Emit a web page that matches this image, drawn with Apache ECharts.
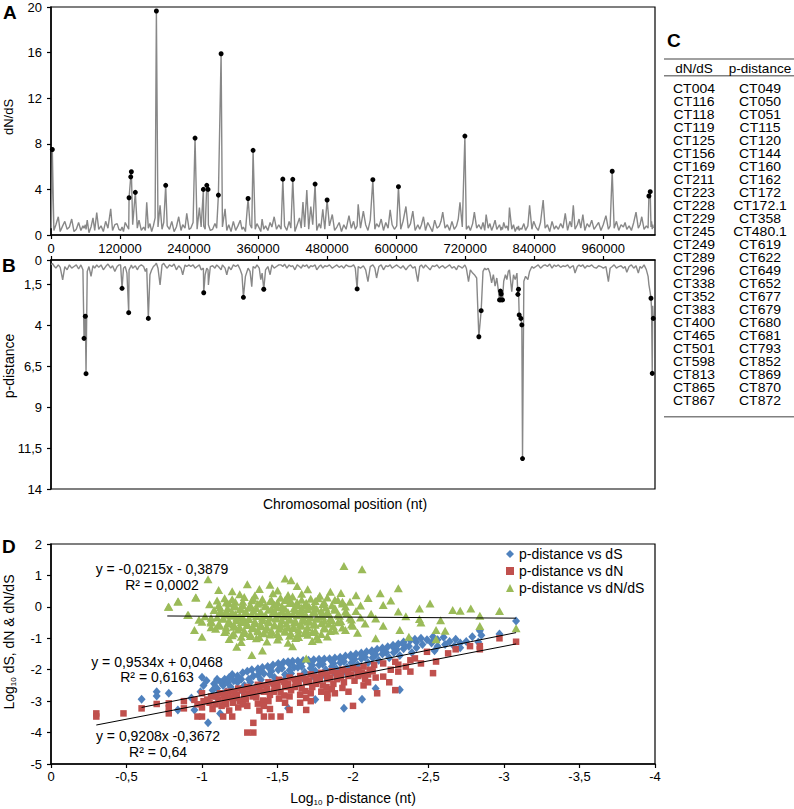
<!DOCTYPE html>
<html><head><meta charset="utf-8">
<script src="https://cdn.jsdelivr.net/npm/echarts@6/dist/echarts.min.js"></script>
<style>html,body{margin:0;padding:0;background:#fff}#c{width:794px;height:809px}</style>
</head><body><div id="c"></div>
<script>
const FONT = '"Liberation Sans", Arial, Helvetica, sans-serif';

// ---- Panels A & B: genes along the chromosome (position in kb) ----
const genePosKb = [
 0.5, 2.3, 5, 8.5, 12.7, 16, 20.3, 24, 28, 32, 36,
 40, 44, 48, 52, 55.5, 57.4, 59.7, 60.9, 63, 66, 69.6, 73, 76, 79.5,
 83, 87, 91, 95, 99, 103.8, 107, 111, 115, 118,
 121, 123.5, 126, 129, 132, 135.1, 135.7, 138.6, 139.7, 142, 146.6, 150, 153, 157,
 161, 164, 166.4, 169.2, 172, 175, 178, 181, 183.2, 186, 189.6, 193, 196, 199.4,
 202, 206, 210, 214, 218, 222, 226, 229, 233, 236,
 240, 243, 247, 250.4, 254, 258, 261, 264.9, 265.5, 268, 270.8, 273.0, 273.6, 277,
 281, 285, 288, 291.0, 295.7, 298, 302.6, 305.6, 309, 313, 317,
 321, 325, 329, 332, 334.5, 338, 342.6, 346, 349, 351.3, 355, 358,
 362, 364.7, 367, 369.9, 373, 377, 380.9, 384, 388, 392, 396,
 400, 403.0, 406, 410, 414, 417, 420.3, 424, 428, 432, 435, 438,
 441, 444.7, 448, 451.6, 455, 459.1, 462, 466, 469, 472.5, 476, 480.0,
 484, 489, 493, 497, 501, 505, 509, 513, 518,
 522, 526, 529, 532.2, 534, 538, 543, 547, 551, 555, 559.5,
 563, 566, 570, 574, 578, 582, 586, 589.6, 593, 597,
 601, 604.0, 608, 612, 617, 621, 625, 629, 633, 637.7,
 641, 644, 647.5, 651, 655, 659, 663, 667, 671, 675, 678,
 681, 685, 689, 693, 697, 701, 705, 708, 711, 715, 719.5,
 722, 725.8, 729, 733, 736, 740, 743.8, 747.8, 751, 754, 756.5,
 760, 763, 766, 769, 772, 775, 779.7, 781.4, 782.1, 782.6, 784.9, 787, 790, 792.5, 795, 797,
 801, 804, 807, 810, 811.6, 812.7, 813.9, 816.8, 818.5, 819.7, 822, 825, 829, 832, 836, 839,
 843, 847, 851, 855.6, 859, 863, 867, 871, 875, 878,
 882, 886, 890, 894, 898, 902, 905, 908, 911, 915, 918,
 921, 924.6, 928, 932, 936, 940, 944, 948, 952, 956,
 960, 964.7, 969, 972, 975.6, 979, 983, 987, 991, 995, 998,
 1001, 1005, 1009, 1013, 1017, 1021, 1024, 1027, 1031, 1035, 1038, 1039.4, 1041.7, 1043.0, 1044, 1045.2, 1046, 1047.0
];
const dnds = [
 0.6, 7.5, 0.4, 0.9, 1.6, 0.3, 0.8, 1.2, 0.5, 0.7, 1.4,
 0.3, 0.5, 1.1, 0.4, 0.8, 0.6, 0.9, 0.5, 1.3, 0.2, 0.7, 1.5, 0.4, 1.96,
 0.5, 0.8, 0.3, 1.2, 0.6, 2.3, 0.4, 0.9, 1.0, 0.5,
 0.4, 0.7, 0.3, 1.1, 0.8, 0.5, 3.27, 5.1, 5.55, 0.9, 3.74, 0.6, 1.3, 0.4,
 0.7, 0.4, 2.87, 0.6, 1.0, 0.3, 0.8, 1.5, 19.65, 0.7, 2.6, 0.5, 1.1, 4.36,
 0.8, 0.5, 1.2, 0.3, 0.7, 1.6, 0.4, 0.9, 0.6, 1.9,
 0.5, 0.6, 1.1, 8.5, 0.5, 2.4, 0.7, 4.0, 0.8, 0.5, 4.36, 4.0, 0.9, 0.4,
 0.5, 1.0, 0.6, 3.5, 15.9, 0.7, 2.3, 0.4, 0.9, 0.3, 1.2,
 0.4, 0.8, 1.3, 0.5, 0.7, 0.3, 3.2, 0.9, 0.6, 7.43, 0.5, 1.0,
 0.6, 0.3, 1.4, 0.5, 0.8, 0.4, 1.1, 0.7, 1.6, 0.5, 0.9,
 0.5, 4.9, 0.8, 0.4, 1.2, 0.6, 4.88, 0.3, 0.9, 1.5, 0.6, 2.9,
 0.7, 3.95, 0.5, 2.5, 0.9, 4.47, 0.4, 1.0, 0.6, 2.25, 0.5, 3.07,
 0.8, 1.8, 0.4, 0.7, 1.1, 0.3, 0.9, 0.5, 1.7,
 0.6, 1.2, 0.5, 0.8, 2.7, 0.6, 2.1, 0.9, 0.4, 1.3, 4.85,
 0.5, 1.0, 0.7, 1.4, 0.4, 1.1, 0.6, 2.2, 0.9, 0.5,
 0.8, 4.24, 0.5, 1.2, 2.5, 0.6, 1.0, 2.1, 0.4, 0.9,
 0.5, 0.9, 1.6, 0.4, 1.1, 0.7, 0.3, 1.3, 0.6, 0.8, 1.2,
 2.0, 0.6, 0.9, 0.4, 1.2, 0.5, 0.8, 1.4, 2.87, 0.7, 8.68,
 0.5, 0.8, 0.4, 1.0, 2.0, 0.6, 0.9, 0.5, 1.1, 0.4, 1.8,
 0.6, 1.0, 0.4, 0.8, 1.3, 0.5, 0.9, 0.6, 0.4, 0.7, 0.5, 1.1, 0.6, 0.8, 0.4, 2.4,
 0.5, 0.9, 0.3, 0.7, 0.5, 0.8, 0.4, 0.6, 0.5, 0.7, 1.0, 0.4, 0.8, 2.6, 0.5, 1.2,
 0.7, 0.4, 1.1, 3.07, 0.6, 0.9, 0.3, 1.2, 0.5, 0.8,
 0.5, 1.0, 0.6, 1.9, 0.4, 1.2, 0.7, 2.6, 0.5, 0.9, 1.4,
 0.6, 1.8, 0.4, 1.0, 0.7, 1.3, 0.5, 0.8, 1.1, 0.4,
 0.9, 1.7, 0.5, 0.8, 5.59, 0.6, 1.2, 0.4, 0.9, 0.7, 1.1,
 0.5, 0.8, 0.4, 1.1, 2.0, 0.6, 0.9, 1.6, 0.5, 0.8, 0.6, 3.42, 3.8, 0.7, 1.2, 0.5, 0.9, 0.6
];
const pdist = [
 0.3, 0.2, 0.35, 0.5, 0.3, 0.45, 1.22, 0.4, 0.6, 0.3, 0.5,
 0.4, 0.3, 0.55, 0.3, 0.6, 4.79, 3.44, 6.95, 0.7, 0.4, 1.0, 0.35, 0.5, 0.3,
 0.45, 0.3, 0.6, 0.4, 0.25, 0.5, 0.35, 0.7, 0.4, 0.3,
 0.3, 1.73, 0.5, 0.4, 0.8, 3.22, 0.6, 0.4, 0.3, 0.5, 0.35, 0.6, 0.4, 0.3,
 0.4, 0.7, 0.5, 3.57, 0.9, 0.6, 0.4, 0.3, 0.2, 0.5, 1.53, 0.3, 0.2, 0.4,
 0.5, 0.3, 0.4, 0.25, 0.6, 0.35, 0.5, 0.9, 0.3, 0.4,
 0.3, 0.4, 0.3, 0.5, 0.4, 0.3, 0.6, 0.5, 2.0, 0.9, 0.5, 0.6, 1.53, 0.4,
 0.35, 0.5, 0.3, 0.4, 0.6, 0.3, 0.5, 0.9, 0.4, 0.6, 0.3,
 0.4, 0.3, 0.6, 0.9, 2.28, 1.0, 0.5, 0.7, 1.63, 0.4, 0.5, 0.3,
 0.5, 1.2, 0.8, 1.79, 0.6, 0.4, 0.9, 0.3, 0.5, 0.4, 0.3,
 0.3, 0.4, 0.25, 0.5, 0.3, 0.4, 0.35, 0.6, 0.3, 0.4, 0.5, 0.3,
 0.4, 0.3, 0.5, 0.35, 0.4, 0.3, 0.6, 0.4, 0.3, 0.5, 0.35, 0.4,
 0.3, 0.5, 0.4, 0.3, 0.45, 0.35, 0.5, 0.3, 0.4,
 0.4, 0.3, 0.5, 1.77, 0.4, 0.5, 0.35, 0.6, 1.32, 0.4, 0.3,
 0.5, 1.1, 0.4, 0.3, 0.6, 0.35, 0.4, 0.3, 0.5, 0.4,
 0.3, 0.4, 0.5, 0.35, 0.6, 0.4, 0.3, 0.5, 0.4, 1.32,
 0.4, 0.3, 0.5, 0.3, 0.45, 0.6, 0.35, 0.4, 0.3, 0.5, 0.4,
 0.35, 0.5, 0.4, 0.3, 0.5, 0.4, 0.6, 0.35, 0.4, 0.5, 0.3,
 0.5, 1.32, 0.6, 0.8, 0.9, 1.1, 4.69, 3.10, 0.7, 0.5, 0.6,
 0.5, 0.8, 1.4, 0.9, 1.6, 1.1, 2.44, 1.9, 2.44, 2.08, 2.44, 1.3, 0.9, 1.2, 0.7, 0.6,
 1.93, 0.9, 1.2, 0.8, 2.1, 1.79, 3.36, 3.57, 3.97, 12.14, 1.3, 1.0, 1.2, 0.7, 0.4, 0.5,
 0.4, 0.3, 0.5, 0.35, 0.3, 0.4, 0.25, 0.5, 0.3, 0.4,
 0.3, 0.45, 0.35, 0.4, 0.3, 0.5, 0.4, 0.35, 0.8, 0.4, 0.3,
 0.4, 0.3, 0.5, 0.35, 0.4, 0.3, 0.45, 0.5, 0.35, 0.4,
 0.5, 0.4, 1.32, 0.5, 0.4, 0.3, 0.5, 0.4, 0.35, 0.5, 0.4,
 0.75, 0.4, 0.3, 0.5, 0.35, 0.8, 0.4, 0.5, 0.3, 0.6, 1.0, 1.5, 2.0, 2.34, 3.0, 6.93, 2.8, 3.57
];
// genes highlighted with black dots (positions in kb)
const hitsDnds = [2.3, 135.7, 138.6, 139.7, 146.6, 183.2, 199.4, 250.4, 264.9, 270.8, 273.0, 291.0, 295.7, 342.6, 351.3, 403.0, 420.3, 459.1, 480.0, 559.5, 604.0, 719.5, 975.6, 1039.4, 1041.7];
const hitsPdist = [57.4, 59.7, 60.9, 123.5, 135.1, 169.2, 265.5, 334.5, 369.9, 532.2, 743.8, 747.8, 779.7, 781.4, 782.1, 782.6, 784.9, 811.6, 812.7, 813.9, 816.8, 818.5, 819.7, 1043.0, 1045.2, 1047.0];

const posTicks = [0, 120000, 240000, 360000, 480000, 600000, 720000, 840000, 960000];
const pdistTicks = [0, 1.5, 4, 6.5, 9, 11.5, 14];

// ---- Panel C: gene table ----
const dndsGenes = ['CT004','CT116','CT118','CT119','CT125','CT156','CT169','CT211','CT223','CT228','CT229','CT245','CT249','CT289','CT296','CT338','CT352','CT383','CT400','CT465','CT501','CT598','CT813','CT865','CT867'];
const pdistGenes = ['CT049','CT050','CT051','CT115','CT120','CT144','CT160','CT162','CT172','CT172.1','CT358','CT480.1','CT619','CT622','CT649','CT652','CT677','CT679','CT680','CT681','CT793','CT852','CT869','CT870','CT872'];

// ---- Panel D: log10 p-distance vs log10 dS / dN / dN/dS ----
const dsPoints = [
 [-0.6,-2.94],[-0.7,-2.7],[-0.7,-2.84],[-0.78,-2.75],[-0.84,-3.28],[-0.95,-3.28],[-0.93,-2.9],
 [-1.0,-2.24],[-1.01,-2.5],[-0.99,-2.7],[-1.04,-3.69],
 [-1.08,-2.45],[-1.07,-2.65],[-1.09,-2.85],[-1.12,-3.39],
 [-1.15,-2.3],[-1.14,-2.5],[-1.16,-2.7],
 [-1.2,-2.15],[-1.21,-2.35],[-1.19,-2.55],[-1.22,-2.75],
 [-1.27,-2.1],[-1.26,-2.3],[-1.28,-2.5],[-1.27,-2.7],
 [-1.33,-2.0],[-1.34,-2.2],[-1.32,-2.4],[-1.35,-2.6],
 [-1.4,-1.93],[-1.41,-2.12],[-1.39,-2.32],[-1.42,-2.52],
 [-1.47,-1.85],[-1.46,-2.05],[-1.48,-2.25],[-1.47,-2.45],
 [-1.54,-1.76],[-1.53,-1.95],[-1.55,-2.15],[-1.54,-2.35],
 [-1.6,-1.73],[-1.61,-1.92],[-1.59,-2.12],[-1.62,-2.32],
 [-1.67,-1.71],[-1.66,-1.9],[-1.68,-2.08],[-1.67,-2.28],
 [-1.74,-1.68],[-1.73,-1.86],[-1.75,-2.04],[-1.74,-2.22],
 [-1.81,-1.66],[-1.8,-1.83],[-1.82,-2.0],[-1.81,-2.18],
 [-1.88,-1.63],[-1.87,-1.8],[-1.89,-1.97],[-1.88,-2.12],
 [-1.95,-1.56],[-1.94,-1.74],[-1.96,-1.92],[-1.95,-2.08],
 [-2.02,-1.5],[-2.01,-1.67],[-2.03,-1.84],[-2.02,-2.0],
 [-2.09,-1.43],[-2.08,-1.6],[-2.1,-1.78],
 [-2.16,-1.35],[-2.15,-1.52],[-2.17,-1.7],
 [-2.23,-1.27],[-2.22,-1.45],[-2.24,-1.62],
 [-2.3,-1.18],[-2.29,-1.36],[-2.31,-1.55],
 [-2.38,-1.06],[-2.37,-1.25],[-2.39,-1.45],
 [-2.45,-1.0],[-2.46,-1.2],
 [-2.53,-0.95],[-2.52,-1.15],[-2.54,-1.4],
 [-2.6,-0.97],[-2.61,-1.2],
 [-2.68,-1.03],[-2.67,-1.25],
 [-2.75,-1.1],
 [-2.84,-0.76],[-2.85,-0.9],[-2.83,-1.12],
 [-2.97,-0.86],[-3.08,-0.45],
 [-1.57,-3.23],[-1.94,-3.23],[-2.06,-2.94],[-1.75,-2.95],[-2.15,-2.6],[-2.31,-2.64],
 [-1.125,-2.4],[-1.18,-2.25],[-1.235,-2.2],[-1.3,-2.05],[-1.37,-1.97],[-1.435,-1.9],[-1.505,-1.8],[-1.57,-1.75],
 [-1.635,-1.72],[-1.705,-1.7],[-1.775,-1.67],[-1.845,-1.65],[-1.915,-1.6],[-1.985,-1.53],[-2.055,-1.47],[-2.125,-1.4],
 [-2.195,-1.31],[-2.265,-1.22],[-2.335,-1.12],[-2.41,-1.03],
 [-1.37,-2.17],[-1.505,-2.0],[-1.635,-1.92],[-1.775,-1.85],[-1.915,-1.78],[-2.055,-1.65],[-2.195,-1.5],[-2.335,-1.33],[-1.235,-2.4],[-1.1,-2.6],
 [-1.03,-2.35],[-1.1,-2.3],[-1.17,-2.4],[-1.24,-2.3],[-1.31,-2.3],[-1.38,-2.05],[-1.45,-1.95],[-1.52,-1.88],[-1.58,-1.82],
 [-1.65,-1.8],[-1.72,-1.77],[-1.79,-1.75],[-1.86,-1.72],[-1.92,-1.68],[-1.99,-1.62],[-2.06,-1.56],[-2.13,-1.48],[-2.2,-1.4],
 [-2.27,-1.3],[-2.34,-1.22],[-2.42,-1.12],[-2.49,-1.05],[-2.56,-1.05],[-2.64,-1.1],[-2.71,-1.15],[-2.79,-0.95],
 [-1.45,-2.15],[-1.58,-2.02],[-1.72,-1.95],[-1.86,-1.9],[-1.99,-1.78],[-2.13,-1.62],[-2.27,-1.45],[-2.42,-1.3],[-2.56,-1.25],[-2.71,-1.3]
];
const dnPoints = [
 [-0.3,-3.39],[-0.3,-3.49],[-0.48,-3.39],[-0.6,-3.23],[-0.7,-3.09],[-0.78,-3.07],[-0.78,-3.23],[-0.78,-3.39],[-0.88,-3.23],[-0.88,-3.0],[-0.95,-2.96],[-0.97,-3.49],[-0.97,-3.1],
 [-1.0,-2.75],[-1.0,-3.49],[-1.01,-3.0],[-1.0,-3.2],
 [-1.06,-2.85],[-1.05,-3.05],[-1.07,-3.25],
 [-1.12,-2.75],[-1.11,-2.95],[-1.13,-3.15],[-1.14,-3.49],
 [-1.17,-2.7],[-1.18,-2.9],[-1.16,-3.1],[-1.18,-3.3],[-1.2,-3.49],
 [-1.24,-2.6],[-1.23,-2.8],[-1.25,-3.0],[-1.24,-3.2],
 [-1.3,-2.55],[-1.31,-2.75],[-1.29,-2.95],[-1.3,-3.15],[-1.3,-4.0],[-1.34,-4.0],[-1.34,-3.69],
 [-1.37,-2.48],[-1.38,-2.68],[-1.36,-2.88],[-1.37,-3.08],[-1.38,-3.3],[-1.41,-3.49],
 [-1.44,-2.4],[-1.43,-2.6],[-1.45,-2.8],[-1.44,-3.0],[-1.45,-3.25],[-1.46,-3.49],
 [-1.51,-2.32],[-1.5,-2.52],[-1.52,-2.72],[-1.51,-2.92],[-1.52,-3.49],
 [-1.58,-2.25],[-1.57,-2.45],[-1.59,-2.65],[-1.58,-2.85],[-1.58,-3.28],
 [-1.65,-2.2],[-1.64,-2.4],[-1.66,-2.6],[-1.65,-2.8],[-1.65,-3.05],[-1.69,-3.28],
 [-1.72,-2.15],[-1.71,-2.35],[-1.73,-2.55],[-1.72,-2.75],[-1.72,-3.0],
 [-1.79,-2.1],[-1.78,-2.3],[-1.8,-2.5],[-1.79,-2.7],
 [-1.83,-2.75],[-1.83,-2.9],
 [-1.86,-2.05],[-1.85,-2.25],[-1.87,-2.45],[-1.86,-2.62],[-1.88,-2.75],
 [-1.93,-2.0],[-1.92,-2.2],[-1.94,-2.4],[-1.93,-2.58],
 [-2.0,-1.95],[-1.99,-2.15],[-2.01,-2.35],[-2.0,-3.15],
 [-2.07,-1.9],[-2.06,-2.1],[-2.08,-2.3],[-2.07,-2.5],
 [-2.11,-2.0],[-2.14,-1.85],[-2.13,-2.05],[-2.15,-2.25],[-2.16,-2.75],
 [-2.2,-2.22],[-2.2,-1.8],[-2.28,-2.65],[-2.28,-1.75],[-2.3,-2.06],[-2.3,-1.84],[-2.38,-2.06],[-2.38,-1.7],
 [-2.41,-1.64],[-2.49,-1.43],[-2.53,-2.11],[-2.55,-1.74],[-2.63,-1.48],[-2.68,-1.35],[-2.775,-1.25],
 [-2.84,-1.25],[-2.84,-1.35],[-2.97,-1.0],[-3.08,-1.11],
 [-1.035,-2.95],[-1.095,-2.85],[-1.145,-2.8],[-1.205,-2.7],[-1.27,-2.65],[-1.335,-2.6],[-1.405,-2.5],[-1.475,-2.45],
 [-1.545,-2.38],[-1.615,-2.3],[-1.685,-2.28],[-1.755,-2.22],[-1.825,-2.15],[-1.895,-2.1],[-1.965,-2.05],[-2.035,-2.0],
 [-1.205,-3.05],[-1.335,-2.85],[-1.475,-2.7],[-1.615,-2.55],[-1.755,-2.45],[-1.895,-2.3],[-2.035,-2.2],
 [-1.27,-3.1],[-1.405,-2.98],[-1.545,-2.82],[-1.685,-2.68],[-1.825,-2.55],
 [-1.09,-3.1],[-1.15,-3.0],[-1.22,-2.9],[-1.28,-2.85],[-1.34,-2.75],[-1.41,-2.7],[-1.48,-2.6],[-1.55,-2.55],[-1.62,-2.45],
 [-1.69,-2.4],[-1.76,-2.35],[-1.83,-2.3],[-1.9,-2.25],[-1.97,-2.2],[-2.04,-2.15],[-2.1,-2.15],[-1.41,-3.15],[-1.55,-3.05],
 [-1.69,-2.9],[-1.83,-2.8],[-1.97,-2.7],[-2.1,-2.4],[-2.25,-2.0],[-2.35,-1.9],[-2.45,-1.8],[-2.24,-2.4]
];
const ratioPoints = [
 [-1.04,0.88],[-1.55,0.9],[-1.59,0.85],[-1.94,1.3],[-2.06,1.2],
 [-1.45,0.7],[-1.63,0.66],[-1.3,0.72],[-2.3,0.59],
 [-1.11,0.54],[-1.2,0.5],[-1.38,0.57],[-1.5,0.52],[-1.7,0.56],[-1.85,0.48],
 [-1.25,0.4],[-1.35,0.36],[-1.47,0.43],[-1.57,0.38],[-1.66,0.42],[-1.78,0.35],[-1.92,0.44],[-2.18,0.43],[-2.02,0.37],
 [-0.96,0.3],[-1.15,0.27],[-1.28,0.31],[-1.4,0.25],[-1.52,0.29],[-1.6,0.33],[-1.72,0.26],[-1.83,0.3],[-2.1,0.28],
 [-0.84,0.17],[-1.1,0.2],[-1.22,0.16],[-1.33,0.21],[-1.45,0.18],[-1.55,0.22],[-1.63,0.15],[-1.75,0.19],[-1.88,0.23],[-1.98,0.16],[-2.25,0.2],
 [-1.05,0.08],[-1.18,0.11],[-1.27,0.06],[-1.37,0.1],[-1.48,0.07],[-1.58,0.12],[-1.68,0.05],[-1.8,0.09],[-1.93,0.11],[-2.05,0.04],[-2.51,0.11],
 [-0.78,0.0],[-1.12,-0.02],[-1.21,0.01],[-1.31,-0.03],[-1.42,0.02],[-1.5,-0.01],[-1.61,-0.04],[-1.71,0.0],[-1.82,-0.02],[-1.95,0.01],[-2.2,0.06],[-2.44,-0.05],
 [-1.08,-0.1],[-1.16,-0.13],[-1.25,-0.08],[-1.34,-0.12],[-1.44,-0.09],[-1.53,-0.14],[-1.62,-0.1],[-1.7,-0.07],[-1.79,-0.12],[-1.88,-0.09],[-2.02,-0.13],[-2.66,-0.1],[-2.71,-0.12],[-2.78,-0.05],[-2.97,-0.13],
 [-0.91,-0.26],[-1.13,-0.2],[-1.22,-0.23],[-1.29,-0.18],[-1.38,-0.22],[-1.47,-0.19],[-1.56,-0.24],[-1.65,-0.2],[-1.74,-0.17],[-1.84,-0.23],[-1.96,-0.2],[-2.12,-0.22],
 [-1.02,-0.3],[-1.1,-0.33],[-1.19,-0.28],[-1.27,-0.32],[-1.36,-0.29],[-1.45,-0.34],[-1.54,-0.3],[-1.63,-0.27],[-1.72,-0.33],[-1.8,-0.31],[-1.91,-0.28],[-2.05,-0.34],[-2.35,-0.3],
 [-0.98,-0.41],[-1.14,-0.38],[-1.23,-0.43],[-1.31,-0.39],[-1.4,-0.42],[-1.49,-0.37],[-1.58,-0.41],[-1.67,-0.44],[-1.76,-0.38],[-1.86,-0.42],[-1.99,-0.4],[-2.15,-0.37],[-2.58,-0.43],
 [-1.06,-0.5],[-1.17,-0.53],[-1.26,-0.48],[-1.35,-0.52],[-1.44,-0.49],[-1.52,-0.54],[-1.61,-0.5],[-1.7,-0.47],[-1.79,-0.52],[-1.9,-0.49],[-2.08,-0.53],[-2.45,-0.5],
 [-1.0,-0.47],[-1.12,-0.6],[-1.21,-0.63],[-1.3,-0.58],[-1.39,-0.62],[-1.48,-0.59],[-1.57,-0.64],[-1.66,-0.6],[-1.75,-0.57],[-1.87,-0.62],[-2.0,-0.6],[-2.84,-0.61],
 [-0.95,-0.74],[-1.09,-0.7],[-1.24,-0.72],[-1.33,-0.68],[-1.42,-0.73],[-1.51,-0.7],[-1.6,-0.67],[-1.69,-0.72],[-1.81,-0.69],[-1.95,-0.74],[-2.31,-0.74],[-2.61,-0.76],[-2.55,-0.74],[-3.08,-0.68],
 [-1.15,-0.8],[-1.28,-0.83],[-1.37,-0.78],[-1.46,-0.82],[-1.55,-0.79],[-1.64,-0.84],[-1.73,-0.8],[-1.85,-0.77],[-2.03,-0.82],[-2.37,-0.95],
 [-1.0,-0.95],[-1.2,-0.9],[-1.32,-0.93],[-1.45,-0.88],[-1.58,-0.92],[-1.7,-0.89],[-1.83,-0.94],[-2.55,-1.03],
 [-1.18,-1.02],[-1.36,-1.0],[-1.5,-1.04],[-1.62,-0.99],[-1.77,-1.03],[-2.15,-1.0],
 [-1.26,-1.12],[-1.43,-1.1],[-1.57,-1.14],[-1.73,-1.09],
 [-1.23,-1.27],[-1.4,-1.39],[-1.6,-1.25],[-1.33,-1.53],[-1.69,-1.64],[-0.905,-0.26],[-0.958,0.3],[-0.843,0.17],[-0.777,0.005],
 [-2.84,-0.28],[-2.44,-0.39],[-2.2,-0.6],[-2.3,-0.15],
 [-1.2,0.24],[-1.34,0.26],[-1.46,0.22],[-1.56,0.25],[-1.66,0.23],[-1.77,0.27],[-1.9,0.22],
 [-1.16,0.14],[-1.27,0.16],[-1.39,0.13],[-1.5,0.15],[-1.59,0.17],[-1.69,0.13],[-1.81,0.14],[-1.93,0.16],
 [-1.11,0.05],[-1.22,0.03],[-1.32,0.06],[-1.42,0.04],[-1.53,0.02],[-1.63,0.06],[-1.74,0.03],[-1.86,0.05],
 [-1.17,-0.05],[-1.26,-0.07],[-1.36,-0.04],[-1.46,-0.06],[-1.55,-0.05],[-1.66,-0.03],[-1.76,-0.06],[-1.88,-0.04],
 [-1.12,-0.15],[-1.2,-0.17],[-1.29,-0.14],[-1.39,-0.16],[-1.48,-0.13],[-1.57,-0.17],[-1.66,-0.15],[-1.74,-0.13],[-1.83,-0.16],[-1.95,-0.15],
 [-1.17,-0.25],[-1.25,-0.27],[-1.33,-0.24],[-1.42,-0.26],[-1.51,-0.25],[-1.6,-0.23],[-1.69,-0.27],[-1.79,-0.25],[-1.9,-0.24],
 [-1.06,-0.35],[-1.14,-0.36],[-1.23,-0.34],[-1.31,-0.36],[-1.4,-0.35],[-1.49,-0.33],[-1.58,-0.36],[-1.67,-0.35],[-1.76,-0.34],[-1.85,-0.36],[-1.98,-0.35],
 [-1.06,-0.45],[-1.18,-0.46],[-1.27,-0.44],[-1.35,-0.46],[-1.44,-0.45],[-1.53,-0.43],[-1.62,-0.46],[-1.71,-0.45],[-1.81,-0.44],[-1.92,-0.46],
 [-1.11,-0.55],[-1.21,-0.56],[-1.3,-0.54],[-1.39,-0.56],[-1.48,-0.55],[-1.56,-0.53],[-1.65,-0.56],[-1.74,-0.55],[-1.84,-0.54],[-1.99,-0.56],
 [-1.06,-0.65],[-1.16,-0.66],[-1.25,-0.64],[-1.34,-0.66],[-1.43,-0.65],[-1.52,-0.63],[-1.61,-0.66],[-1.7,-0.65],[-1.81,-0.64],[-1.93,-0.66],
 [-1.16,-0.75],[-1.28,-0.76],[-1.37,-0.74],[-1.46,-0.76],[-1.55,-0.75],[-1.64,-0.73],[-1.75,-0.76],[-1.88,-0.75],
 [-1.21,-0.85],[-1.32,-0.86],[-1.41,-0.84],[-1.5,-0.86],[-1.59,-0.85],[-1.68,-0.83],[-1.79,-0.86],
 [-1.26,-0.95],[-1.38,-0.96],[-1.51,-0.94],[-1.64,-0.96],[-1.76,-0.95]
];
// fitted trend lines (end points in data units)
const trendDS = [[-0.60, -3.20], [-3.08, -0.82]];
const trendDN = [[-0.30, -3.76], [-3.08, -1.18]];
const trendRatio = [[-0.77, -0.29], [-3.08, -0.36]];
const trendLabels = [
  ['y = -0,0215x - 0,3879', 'R² = 0,0002'],
  ['y = 0,9534x + 0,0468', 'R² = 0,6163'],
  ['y = 0,9208x -0,3672', 'R² = 0,64']
];
const seriesNames = ['p-distance vs dS', 'p-distance vs dN', 'p-distance vs dN/dS'];

// ---------- build ----------
const lineA = genePosKb.map((p, i) => [p * 1000, dnds[i]]);
const lineB = genePosKb.map((p, i) => [p * 1000, pdist[i]]);
const dotsA = hitsDnds.map(p => [p * 1000, dnds[genePosKb.indexOf(p)]]);
const dotsB = hitsPdist.map(p => [p * 1000, pdist[genePosKb.indexOf(p)]]);
const comma = v => String(v).replace('.', ',');
const plain = v => String(Math.round(v));

const axisLine = { show: true, onZero: false, lineStyle: { color: '#000', width: 1.5 } };
const tick = { show: true, length: 4, lineStyle: { color: '#000', width: 1.2 } };
const lab = { color: '#000', fontSize: 13, fontFamily: FONT };

function txt(x, y, text, opt) {
  opt = opt || {};
  return {
    type: 'text', x: x, y: y, rotation: opt.rot || 0, scaleY: opt.scaleY || 1, silent: true,
    style: Object.assign({
      text: text, x: 0, y: 0, fill: '#000',
      font: (opt.weight || 'normal') + ' ' + (opt.size || 14) + 'px ' + FONT,
      textAlign: opt.align || 'center', textVerticalAlign: 'middle',
      align: opt.align || 'center', verticalAlign: 'middle'
    }, opt.style || {})
  };
}
const subRich = {
  a: { fontSize: 14, fontFamily: FONT, lineHeight: 16, verticalAlign: 'middle' },
  s: { fontSize: 8, fontFamily: FONT, lineHeight: 16, verticalAlign: 'bottom', padding: [6, 0, 0, 0] }
};

const graphics = [];
graphics.push(txt(3, 12, 'A', { weight: 'bold', size: 19, align: 'left' }));
graphics.push(txt(2, 265, 'B', { weight: 'bold', size: 19, align: 'left' }));
graphics.push(txt(667, 40, 'C', { weight: 'bold', size: 19, align: 'left' }));
graphics.push(txt(2, 546, 'D', { weight: 'bold', size: 19, align: 'left' }));
graphics.push(txt(8, 117, 'dN/dS', { rot: Math.PI / 2, size: 13 }));
graphics.push(txt(9, 366, 'p-distance', { rot: Math.PI / 2, size: 14 }));
graphics.push(txt(345, 504, 'Chromosomal position (nt)', { size: 14 }));
graphics.push(txt(9, 642, '{a|Log}{s|10}{a| dS, dN & dN/dS}', { rot: Math.PI / 2, style: { rich: subRich } }));
graphics.push(txt(353, 798, '{a|Log}{s|10}{a| p-distance (nt)}', { style: { rich: subRich } }));
// regression labels
const eqPos = [[162, 569, 585], [157, 662, 677], [158, 736, 752]];
trendLabels.forEach((t, i) => {
  graphics.push(txt(eqPos[i][0], eqPos[i][1], t[0], { size: 14 }));
  graphics.push(txt(eqPos[i][0], eqPos[i][2], t[1], { size: 14 }));
});
// table (panel C)
[59, 75.7, 416.7].forEach(y => graphics.push({ type: 'line', silent: true,
  shape: { x1: 664, y1: y, x2: 794, y2: y }, style: { stroke: '#808080', lineWidth: 1.5 } }));
graphics.push(txt(694, 68, 'dN/dS', { size: 13.5 }));
graphics.push(txt(760, 68, 'p-distance', { size: 13.5 }));
dndsGenes.forEach((g, i) => graphics.push(txt(694, 89 + i * 13, g, { size: 14, scaleY: 0.86 })));
pdistGenes.forEach((g, i) => graphics.push(txt(760, 89 + i * 13, g, { size: 14, scaleY: 0.86 })));

const chart = echarts.init(document.getElementById('c'), null, { renderer: 'svg' });
chart.setOption({
  animation: false,
  backgroundColor: '#fff',
  textStyle: { fontFamily: FONT },
  grid: [
    { left: 51, top: 7, width: 604, height: 228, show: true, borderColor: '#000', borderWidth: 1.2, backgroundColor: 'transparent' },
    { left: 51, top: 260, width: 604, height: 229, show: true, borderColor: '#000', borderWidth: 1.2, backgroundColor: 'transparent' },
    { left: 51, top: 544, width: 604, height: 220, show: true, borderColor: '#000', borderWidth: 1.2, backgroundColor: 'transparent' }
  ],
  xAxis: [
    { gridIndex: 0, type: 'value', min: 0, max: 1050000, position: 'bottom', axisLine: axisLine,
      axisTick: Object.assign({ customValues: posTicks }, tick), splitLine: { show: false },
      axisLabel: Object.assign({ customValues: posTicks, margin: 7, formatter: plain }, lab) },
    { gridIndex: 1, type: 'value', min: 0, max: 1050000, position: 'top', axisLine: axisLine,
      axisTick: Object.assign({ customValues: posTicks }, tick), splitLine: { show: false },
      axisLabel: { show: false } },
    { gridIndex: 2, type: 'value', min: -4, max: 0, interval: 0.5, inverse: true, position: 'bottom', axisLine: axisLine,
      axisTick: tick, splitLine: { show: false },
      axisLabel: Object.assign({ margin: 6, formatter: comma }, lab) }
  ],
  yAxis: [
    { gridIndex: 0, type: 'value', min: 0, max: 20, interval: 4, axisLine: axisLine, axisTick: tick,
      splitLine: { show: false }, axisLabel: Object.assign({ margin: 9 }, lab) },
    { gridIndex: 1, type: 'value', min: 0, max: 14, inverse: true, axisLine: axisLine,
      axisTick: Object.assign({ customValues: pdistTicks }, tick), splitLine: { show: false },
      axisLabel: Object.assign({ customValues: pdistTicks, margin: 9, formatter: comma }, lab) },
    { gridIndex: 2, type: 'value', min: -5, max: 2, interval: 1, axisLine: axisLine, axisTick: tick,
      splitLine: { show: false }, axisLabel: Object.assign({ margin: 9 }, lab) }
  ],
  legend: {
    data: seriesNames, orient: 'vertical', left: 506, top: 547, itemWidth: 8, itemHeight: 8, itemGap: 3,
    padding: 0, textStyle: { color: '#000', fontSize: 14, fontFamily: FONT }
  },
  series: [
    { type: 'line', xAxisIndex: 0, yAxisIndex: 0, data: lineA, showSymbol: false, silent: true,
      lineStyle: { color: '#888', width: 1.4 }, z: 2 },
    { type: 'scatter', xAxisIndex: 0, yAxisIndex: 0, data: dotsA, symbolSize: 5, itemStyle: { color: '#000', opacity: 1 }, z: 3 },
    { type: 'line', xAxisIndex: 1, yAxisIndex: 1, data: lineB, showSymbol: false, silent: true,
      lineStyle: { color: '#888', width: 1.4 }, z: 2 },
    { type: 'scatter', xAxisIndex: 1, yAxisIndex: 1, data: dotsB, symbolSize: 5, itemStyle: { color: '#000', opacity: 1 }, z: 3 },
    { name: seriesNames[0], type: 'scatter', xAxisIndex: 2, yAxisIndex: 2, data: dsPoints, symbol: 'diamond',
      symbolSize: [8, 9], itemStyle: { color: '#4F81BD', opacity: 1 }, z: 2 },
    { name: seriesNames[1], type: 'scatter', xAxisIndex: 2, yAxisIndex: 2, data: dnPoints, symbol: 'rect',
      symbolSize: 6.5, itemStyle: { color: '#C0504D', opacity: 1 }, z: 2 },
    { name: seriesNames[2], type: 'scatter', xAxisIndex: 2, yAxisIndex: 2, data: ratioPoints, symbol: 'triangle',
      symbolSize: [9, 8], itemStyle: { color: '#9BBB59', opacity: 1 }, z: 2 },
    { type: 'line', xAxisIndex: 2, yAxisIndex: 2, data: trendDS, showSymbol: false, silent: true, lineStyle: { color: '#000', width: 1 }, z: 4 },
    { type: 'line', xAxisIndex: 2, yAxisIndex: 2, data: trendDN, showSymbol: false, silent: true, lineStyle: { color: '#000', width: 1 }, z: 4 },
    { type: 'line', xAxisIndex: 2, yAxisIndex: 2, data: trendRatio, showSymbol: false, silent: true, lineStyle: { color: '#000', width: 1 }, z: 4 }
  ],
  graphic: graphics
});
</script></body></html>
